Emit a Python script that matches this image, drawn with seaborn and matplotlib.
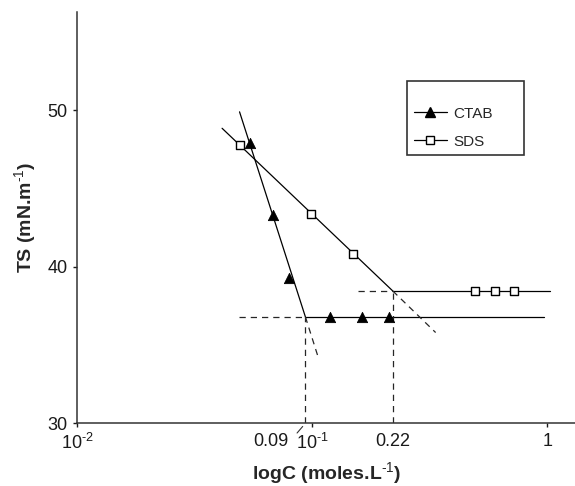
import numpy as np
import pandas as pd
import seaborn as sns
import matplotlib.pyplot as plt
from matplotlib.lines import Line2D

# -------------------------
# Data
# -------------------------
# Measured points
ctab_c = [0.0545, 0.0678, 0.0798, 0.119, 0.163, 0.212]
ctab_ts = [47.9, 43.3, 39.3, 36.8, 36.8, 36.8]
sds_c = [0.049, 0.099, 0.149, 0.493, 0.598, 0.719]
sds_ts = [47.8, 43.4, 40.8, 38.45, 38.45, 38.45]

# Fitted straight lines (solid) and their extrapolations (dashed)
ctab_fit_c = [0.049, 0.0934]
ctab_fit_ts = [49.9, 36.8]
ctab_ext_c = [0.0934, 0.1065]
ctab_ext_ts = [36.8, 34.1]
sds_fit_c = [0.0413, 0.22]
sds_fit_ts = [48.85, 38.45]
sds_ext_c = [0.22, 0.3345]
sds_ext_ts = [38.45, 35.8]

# Plateaus
ctab_plat_c = [0.0934, 0.967]
sds_plat_c = [0.22, 1.024]
ctab_plat_ts = 36.8
sds_plat_ts = 38.45

# Dashed guides back to the axes
ctab_guide_c = [0.0486, 0.0934]
sds_guide_c = [0.1556, 0.22]

# CMC values
cmc = [0.0934, 0.22]
cmc_labels = ['0.09', '0.22']

# Axis ticks
x_ticks = [0.01, 0.1, 1]
x_ticklabels = [r'$10^{\text{-2}}$', r'$10^{\text{-1}}$', '1']
y_ticks = [30, 40, 50]

# -------------------------
# Configuration
# -------------------------
sns.set_theme(style='white')
plt.rcParams['font.family'] = ['Liberation Sans', 'DejaVu Sans']
plt.rcParams['mathtext.fontset'] = 'custom'
plt.rcParams['mathtext.rm'] = 'Liberation Sans'
plt.rcParams['mathtext.default'] = 'regular'
plt.rcParams['axes.unicode_minus'] = False

line_kw = dict(color='black', linewidth=0.9, estimator=None, sort=False)
dash_kw = dict(color='0.15', linewidth=0.9, dashes=(5, 4))

# -------------------------
# Figure
# -------------------------
fig = plt.figure(figsize=(5.75, 4.86), dpi=100)
ax = fig.add_axes([77.3 / 575, 1 - 423.3 / 486, (575 - 77.3) / 575, 411 / 486])
ax.set_xscale('log')

# Solid fitted lines and plateaus
sns.lineplot(x=ctab_fit_c, y=ctab_fit_ts, ax=ax, **line_kw)
sns.lineplot(x=sds_fit_c, y=sds_fit_ts, ax=ax, **line_kw)
sns.lineplot(x=ctab_plat_c, y=[ctab_plat_ts] * 2, ax=ax, **line_kw)
sns.lineplot(x=sds_plat_c, y=[sds_plat_ts] * 2, ax=ax, **line_kw)

# Dashed extrapolations and guides
ax.plot(ctab_ext_c, ctab_ext_ts, **dash_kw)
ax.plot(sds_ext_c, sds_ext_ts, **dash_kw)
ax.plot(ctab_guide_c, [ctab_plat_ts] * 2, **dash_kw)
ax.plot(sds_guide_c, [sds_plat_ts] * 2, **dash_kw)
ax.plot([cmc[0]] * 2, [30, ctab_plat_ts], **dash_kw)
ax.plot([cmc[1]] * 2, [30, sds_plat_ts], **dash_kw)

# Markers
sns.scatterplot(x=ctab_c, y=ctab_ts, ax=ax, marker='^', s=55,
                color='black', edgecolor='black', zorder=5)
sns.scatterplot(x=sds_c, y=sds_ts, ax=ax, marker='s', s=38,
                facecolor='white', edgecolor='black', linewidth=1.0, zorder=5)

# Axes
ax.set_xlim(0.01, 1.31)
ax.set_ylim(30, 56.26)
ax.set_xticks(x_ticks)
ax.set_xticklabels(x_ticklabels)
ax.minorticks_off()
ax.set_yticks(y_ticks)
ax.tick_params(axis='both', labelsize=13, colors='0.1', length=3, width=1.0,
               direction='out', bottom=True, left=True, pad=4)
for side in ['top', 'right']:
    ax.spines[side].set_visible(False)
for side in ['left', 'bottom']:
    ax.spines[side].set_color('0.2')
    ax.spines[side].set_linewidth(1.1)

ax.set_xlabel('logC (moles.L$^{\\text{-1}}$)', fontsize=14, fontweight='bold', labelpad=5)
ax.set_ylabel('TS (mN.m$^{\\text{-1}}$)', fontsize=14, fontweight='bold', labelpad=7)

# CMC labels
ax.annotate(cmc_labels[0], xy=(cmc[0], 0), xycoords=('data', 'axes fraction'),
            xytext=(-12, -7), textcoords='offset points',
            ha='right', va='top', fontsize=13, color='0.1')
ax.annotate('', xy=(cmc[0], 0), xycoords=('data', 'axes fraction'),
            xytext=(-6, -7), textcoords='offset points',
            arrowprops=dict(arrowstyle='-', shrinkA=0, shrinkB=3, lw=0.8, color='0.2'))
ax.annotate(cmc_labels[1], xy=(cmc[1], 0), xycoords=('data', 'axes fraction'),
            xytext=(0, -7), textcoords='offset points',
            ha='center', va='top', fontsize=13, color='0.1')

# Legend
handles = [
    Line2D([], [], color='black', lw=0.9, marker='^', ms=7.5),
    Line2D([], [], color='black', lw=0.9, marker='s', ms=6,
           markerfacecolor='white', markeredgewidth=1.0),
]
leg = fig.legend(handles, ['CTAB', 'SDS'], loc='upper left',
                 bbox_to_anchor=(406.7 / 575, 1 - 86 / 486, 117.6 / 575, 0.01),
                 mode='expand', borderaxespad=0, fontsize=11,
                 title=' ', title_fontsize=4,
                 frameon=True, fancybox=False, handlelength=2.2,
                 labelspacing=0.9, borderpad=0.45, handletextpad=0.4)
leg.get_frame().set_edgecolor('black')
leg.get_frame().set_linewidth(1.2)

fig.savefig('out.png', dpi=100)
